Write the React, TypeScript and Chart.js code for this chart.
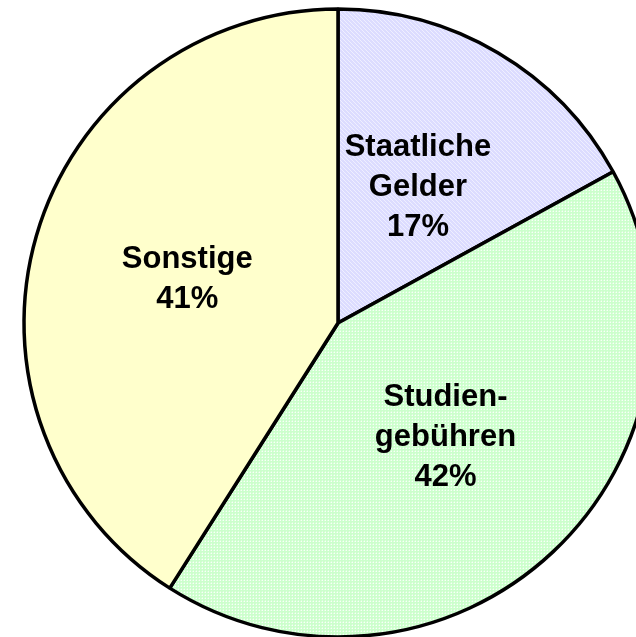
import React, { useEffect, useRef } from "react";
import { Chart, registerables } from "chart.js";

Chart.register(...registerables);

const categories: string[][] = [["Staatliche", "Gelder"], ["Studien-", "gebühren"], ["Sonstige"]];
const values: number[] = [17, 42, 41];

function makeHatch(): CanvasPattern | string {
  const c = document.createElement("canvas");
  c.width = 4;
  c.height = 4;
  const g = c.getContext("2d");
  if (!g) return "#E0E0FF";
  g.fillStyle = "#DCDCFF";
  g.fillRect(0, 0, 4, 4);
  g.fillStyle = "rgba(255,255,255,0.55)";
  for (let i = 0; i < 4; i++) g.fillRect(i, i, 1, 1);
  return g.createPattern(c, "repeat") || "#E0E0FF";
}

function makeDots(): CanvasPattern | string {
  const c = document.createElement("canvas");
  c.width = 3;
  c.height = 3;
  const g = c.getContext("2d");
  if (!g) return "#D8FFD8";
  g.fillStyle = "#CCFFCC";
  g.fillRect(0, 0, 3, 3);
  g.fillStyle = "rgba(255,255,255,0.85)";
  g.fillRect(1, 1, 1, 1);
  g.fillStyle = "rgba(255,255,255,0.35)";
  g.fillRect(0, 1, 1, 1);
  g.fillRect(1, 0, 1, 1);
  return g.createPattern(c, "repeat") || "#D8FFD8";
}

const labelPlugin = {
  id: "sliceLabels",
  afterDatasetsDraw(chart: any) {
    const ctx = chart.ctx;
    const meta = chart.getDatasetMeta(0);
    ctx.save();
    ctx.font = "bold 31px 'Liberation Sans', Arial, sans-serif";
    ctx.fillStyle = "#000";
    ctx.textAlign = "center";
    ctx.textBaseline = "middle";
    const lh = 40;
    meta.data.forEach((arc: any, i: number) => {
      const pos = arc.tooltipPosition();
      const lines = [...categories[i], values[i] + "%"];
      const top = pos.y - ((lines.length - 1) * lh) / 2;
      lines.forEach((t, k) => ctx.fillText(t, pos.x, top + k * lh));
    });
    ctx.restore();
  },
};

export default function App() {
  const ref = useRef<HTMLCanvasElement>(null);
  useEffect(() => {
    if (!ref.current) return;
    const chart = new Chart(ref.current, {
      type: "pie",
      data: {
        labels: categories.map((c) => c.join(" ")),
        datasets: [
          {
            data: values,
            backgroundColor: [makeHatch(), makeDots(), "#FFFFCC"],
            borderColor: "#000000",
            borderWidth: 3.5,
          },
        ],
      },
      options: {
        responsive: false,
        animation: false,
        radius: 314,
        layout: { padding: 0 },
        plugins: {
          legend: { display: false },
          tooltip: { enabled: false },
        },
      } as any,
      plugins: [labelPlugin],
    });
    return () => chart.destroy();
  }, []);
  return (
    <div
      style={{
        position: "fixed",
        left: 0,
        top: 0,
        width: 636,
        height: 637,
        overflow: "hidden",
        background: "#fff",
      }}
    >
      <canvas ref={ref} width={676} height={646} style={{ display: "block", width: 676, height: 646 }} />
    </div>
  );
}
